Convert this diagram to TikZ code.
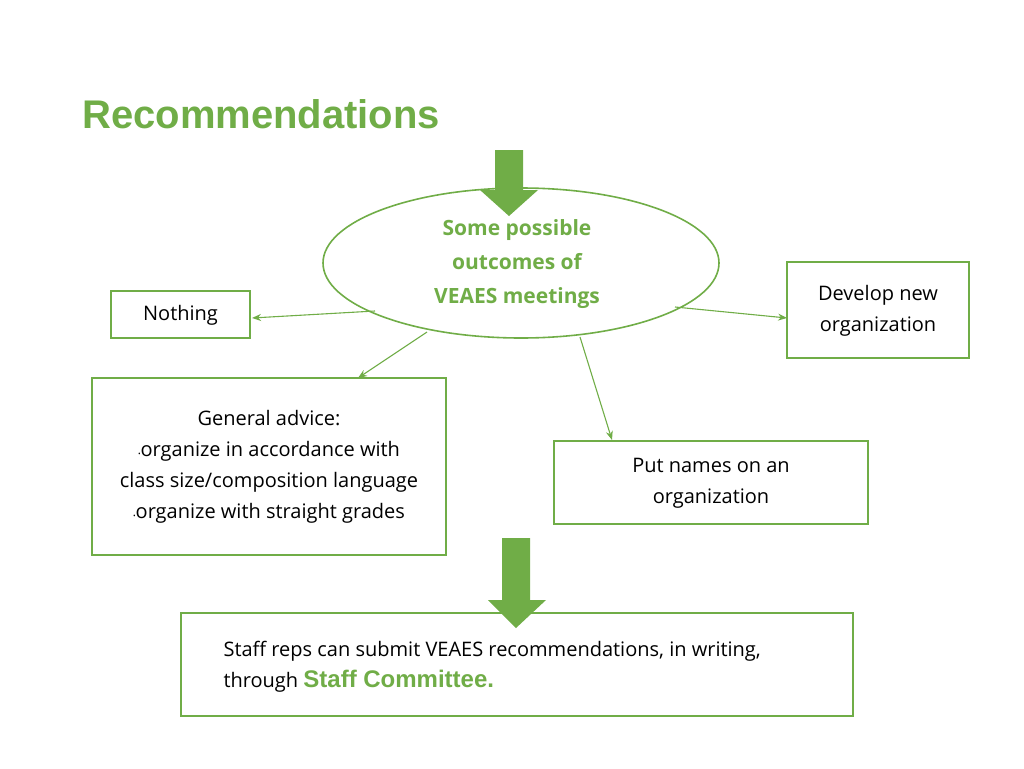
\documentclass[tikz,border=0pt]{standalone}
\usepackage{fontspec}
\setmainfont{Open Sans}
\newfontfamily\arialb{Liberation Sans}
\usetikzlibrary{arrows.meta}
\definecolor{gr}{HTML}{70AD47}
\begin{document}
\begin{tikzpicture}[x=1pt,y=-1pt,
  box/.style={draw=gr,line width=1.3pt,fill=white},
  txt/.style={font=\fontsize{20}{31}\selectfont,align=center},
  conn/.style={draw=gr,line width=1.1pt,-{Stealth[length=9pt,width=7pt]}},
  bigarrow/.style={fill=gr,draw=none}]
\useasboundingbox (0,0) rectangle (1024,768);
\node[anchor=base west,font=\arialb\bfseries\fontsize{40}{44}\selectfont,text=gr,inner sep=0] (title) at (82,128) {Recommendations};
\draw[box,line width=1.6pt] (521,263) ellipse [x radius=198,y radius=75];
\node[font=\bfseries\fontsize{21}{34}\selectfont,text=gr,align=center] (ell) at (517,264) {Some possible\\outcomes of\\VEAES meetings};
\fill[gr] (495,150) -- (523,150) -- (523,190) -- (538,190) -- (509,216) -- (480,190) -- (495,190) -- cycle;
\draw[box] (111,291) rectangle (250,338);
\node[txt] (nothing) at (180.5,315) {Nothing};
\draw[box] (787,262) rectangle (969,358);
\node[txt] (develop) at (878,311) {Develop new\\organization};
\draw[box] (92,378) rectangle (446,555);
\node[txt] (general) at (269,467) {General advice:\\{\scriptsize\textbullet}organize in accordance with\\class size/composition language\\{\scriptsize\textbullet}organize with straight grades};
\draw[box] (554,441) rectangle (868,524);
\node[txt] (names) at (711,483) {Put names on an\\organization};
\draw[box] (181,613) rectangle (853,716);
\fill[gr] (502,538) -- (530,538) -- (530,600) -- (546,600) -- (516,628) -- (488,600) -- (502,600) -- cycle;
\node[txt,align=left,anchor=west] (staff) at (220,667) {Staff reps can submit VEAES recommendations, in writing,\\through {\arialb\bfseries\color{gr}\fontsize{24}{30}\selectfont Staff Committee.}};
\coordinate (e1) at (375,311); \coordinate (n1) at (252,318);
\coordinate (e2) at (675,307); \coordinate (d1) at (787,318);
\coordinate (e3) at (427,332); \coordinate (g1) at (358,378);
\coordinate (e4) at (580,337); \coordinate (p1) at (612,440);
\draw[conn] (e1) -- (n1);
\draw[conn] (e2) -- (d1);
\draw[conn] (e3) -- (g1);
\draw[conn] (e4) -- (p1);
\end{tikzpicture}
\end{document}
